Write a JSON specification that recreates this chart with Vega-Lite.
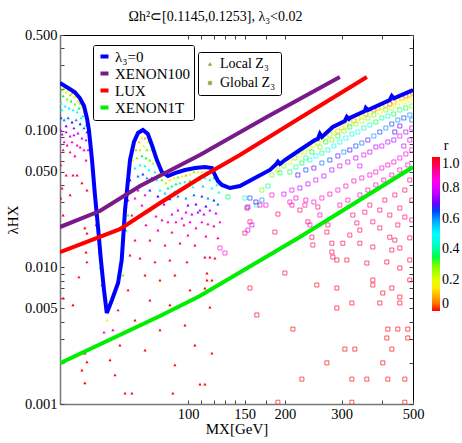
{
"$schema": "https://vega.github.io/schema/vega-lite/v6.json",
"width": 353, "height": 369,
"autosize": {"type": "none"},
"padding": {"left": 60, "top": 35, "right": 49, "bottom": 39},
"background": "white",
"title": {"text": "Ωh²⊂[0.1145,0.1253], λ₃<0.02", "font": "Liberation Serif, Times New Roman, serif", "fontSize": 14, "fontWeight": "normal", "color": "#000", "anchor": "middle", "dx": -21, "offset": 3},
"config": {
  "font": "Liberation Serif, Times New Roman, serif",
  "view": {"stroke": "#000", "strokeWidth": 1},
  "axis": {"grid": false, "labelFont": "Liberation Serif, Times New Roman, serif", "labelFontSize": 14.5, "labelColor": "#000", "titleFont": "Liberation Serif, Times New Roman, serif", "titleFontSize": 15, "titleFontWeight": "normal", "titleColor": "#000", "domainColor": "#777", "domainWidth": 1.5, "tickColor": "#444", "tickSize": -4, "labelPadding": 7, "labelOverlap": false, "labelFlush": false},
  "legend": {"labelFont": "Liberation Serif, Times New Roman, serif", "titleFont": "Liberation Serif, Times New Roman, serif"}
},
"datasets": {
"pts": [
{"m":40.6,"l":0.198,"r":0.3,"t":"L"},{"m":41.2,"l":0.205,"r":0.25,"t":"L"},{"m":41.8,"l":0.191,"r":0.2,"t":"L"},{"m":42.4,"l":0.198,"r":0.15,"t":"L"},{"m":43.0,"l":0.182,"r":0.3,"t":"L"},{"m":43.6,"l":0.188,"r":0.1,"t":"L"},{"m":44.2,"l":0.176,"r":0.2,"t":"L"},{"m":44.9,"l":0.179,"r":0.25,"t":"L"},{"m":45.5,"l":0.1645,"r":0.15,"t":"L"},{"m":46.2,"l":0.159,"r":0.3,"t":"L"},{"m":46.8,"l":0.1487,"r":0.2,"t":"L"},{"m":47.5,"l":0.1367,"r":0.25,"t":"L"},{"m":48.2,"l":0.1236,"r":0.3,"t":"L"},{"m":40.9,"l":0.179,"r":0.35,"t":"L"},{"m":42.1,"l":0.17,"r":0.3,"t":"L"},{"m":43.3,"l":0.1645,"r":0.35,"t":"L"},{"m":44.5,"l":0.1564,"r":0.3,"t":"L"},{"m":45.8,"l":0.1462,"r":0.35,"t":"L"},{"m":47.2,"l":0.1278,"r":0.4,"t":"L"},
{"m":40.3,"l":0.159,"r":0.45,"t":"L"},{"m":41.5,"l":0.1512,"r":0.5,"t":"L"},{"m":42.7,"l":0.1462,"r":0.45,"t":"L"},{"m":43.9,"l":0.1414,"r":0.5,"t":"L"},{"m":45.2,"l":0.1367,"r":0.45,"t":"L"},{"m":46.5,"l":0.1236,"r":0.5,"t":"L"},{"m":48.2,"l":0.1098,"r":0.45,"t":"L"},{"m":40.6,"l":0.1414,"r":0.5,"t":"L"},
{"m":40.3,"l":0.1236,"r":0.65,"t":"L"},{"m":41.2,"l":0.1195,"r":0.6,"t":"L"},{"m":42.4,"l":0.1236,"r":0.62,"t":"L"},{"m":43.6,"l":0.1155,"r":0.68,"t":"L"},{"m":44.9,"l":0.1195,"r":0.6,"t":"L"},{"m":46.2,"l":0.1117,"r":0.65,"t":"L"},{"m":47.5,"l":0.1044,"r":0.62,"t":"L"},{"m":48.5,"l":0.0976,"r":0.7,"t":"L"},{"m":41.8,"l":0.108,"r":0.7,"t":"L"},{"m":44.2,"l":0.1044,"r":0.72,"t":"L"},
{"m":40.6,"l":0.0943,"r":0.78,"t":"L"},{"m":41.8,"l":0.0976,"r":0.75,"t":"L"},{"m":43.0,"l":0.0912,"r":0.8,"t":"L"},{"m":44.2,"l":0.0928,"r":0.76,"t":"L"},{"m":45.5,"l":0.0959,"r":0.78,"t":"L"},{"m":46.8,"l":0.0882,"r":0.8,"t":"L"},{"m":48.2,"l":0.0853,"r":0.78,"t":"L"},{"m":40.2,"l":0.1009,"r":0.75,"t":"L"},
{"m":41.2,"l":0.0825,"r":0.85,"t":"L"},{"m":42.1,"l":0.0784,"r":0.88,"t":"L"},{"m":43.6,"l":0.0825,"r":0.86,"t":"L"},{"m":45.2,"l":0.0784,"r":0.85,"t":"L"},{"m":46.2,"l":0.0758,"r":0.9,"t":"L"},{"m":47.5,"l":0.0721,"r":0.88,"t":"L"},{"m":48.9,"l":0.0721,"r":0.85,"t":"L"},{"m":43.0,"l":0.0697,"r":0.9,"t":"L"},{"m":44.5,"l":0.0652,"r":0.9,"t":"L"},{"m":40.9,"l":0.0721,"r":0.88,"t":"L"},{"m":48.2,"l":0.0609,"r":0.9,"t":"L"},
{"m":40.2,"l":0.056,"r":0.95,"t":"L"},{"m":41.8,"l":0.0473,"r":0.95,"t":"L"},{"m":43.9,"l":0.0473,"r":0.96,"t":"L"},{"m":45.2,"l":0.0473,"r":0.95,"t":"L"},{"m":46.8,"l":0.0414,"r":0.96,"t":"L"},{"m":48.5,"l":0.0367,"r":0.97,"t":"L"},{"m":40.6,"l":0.038,"r":0.95,"t":"L"},{"m":43.0,"l":0.0338,"r":0.97,"t":"L"},
{"m":40.2,"l":0.0321,"r":1.0,"t":"L"},{"m":40.9,"l":0.0241,"r":0.99,"t":"L"},{"m":47.8,"l":0.0194,"r":1.0,"t":"L"},{"m":48.5,"l":0.0178,"r":0.99,"t":"L"},{"m":48.2,"l":0.01293,"r":1.0,"t":"L"},{"m":48.5,"l":0.01093,"r":0.99,"t":"L"},{"m":45.8,"l":0.00849,"r":1.0,"t":"L"},{"m":40.9,"l":0.00596,"r":1.0,"t":"L"},{"m":43.9,"l":0.0053,"r":1.0,"t":"L"},{"m":47.8,"l":0.00236,"r":1.0,"t":"L"},{"m":48.5,"l":0.00203,"r":1.0,"t":"L"},{"m":46.8,"l":0.00177,"r":1.0,"t":"L"},{"m":47.8,"l":0.00143,"r":1.0,"t":"L"},
{"m":52.5,"l":0.0166,"r":0.35,"t":"L"},{"m":52.9,"l":0.0127,"r":0.3,"t":"L"},{"m":53.3,"l":0.00988,"r":0.35,"t":"L"},{"m":56.0,"l":0.00411,"r":0.15,"t":"L"},{"m":54.8,"l":0.00336,"r":0.85,"t":"L"},{"m":51.4,"l":0.0241,"r":0.5,"t":"L"},{"m":51.8,"l":0.0204,"r":0.9,"t":"L"},{"m":54.0,"l":0.00742,"r":0.95,"t":"L"},{"m":58.4,"l":0.00348,"r":0.9,"t":"L"},{"m":60.6,"l":0.00487,"r":0.95,"t":"L"},{"m":61.4,"l":0.0027,"r":1.0,"t":"L"},{"m":57.2,"l":0.0021,"r":1.0,"t":"L"},{"m":59.3,"l":0.00163,"r":0.99,"t":"L"},{"m":63.7,"l":0.0012,"r":1.0,"t":"L"},{"m":66.9,"l":0.0012,"r":1.0,"t":"L"},{"m":62.8,"l":0.00878,"r":0.3,"t":"L"},{"m":64.1,"l":0.0187,"r":0.35,"t":"L"},{"m":65.1,"l":0.0241,"r":0.3,"t":"L"},
{"m":67.4,"l":0.0609,"r":0.15,"t":"L"},{"m":68.9,"l":0.0721,"r":0.1,"t":"L"},{"m":70.4,"l":0.0825,"r":0.1,"t":"L"},{"m":71.9,"l":0.0882,"r":0.15,"t":"L"},{"m":73.5,"l":0.0882,"r":0.1,"t":"L"},{"m":75.1,"l":0.0825,"r":0.15,"t":"L"},{"m":76.7,"l":0.0721,"r":0.2,"t":"L"},{"m":70.9,"l":0.0721,"r":0.25,"t":"L"},{"m":72.9,"l":0.0771,"r":0.2,"t":"L"},{"m":74.5,"l":0.0721,"r":0.3,"t":"L"},{"m":69.4,"l":0.063,"r":0.3,"t":"L"},{"m":71.9,"l":0.0652,"r":0.35,"t":"L"},{"m":74.0,"l":0.063,"r":0.35,"t":"L"},{"m":76.1,"l":0.0609,"r":0.3,"t":"L"},{"m":77.8,"l":0.0579,"r":0.25,"t":"L"},{"m":68.4,"l":0.0532,"r":0.45,"t":"L"},{"m":70.9,"l":0.056,"r":0.5,"t":"L"},{"m":73.5,"l":0.0551,"r":0.45,"t":"L"},{"m":75.6,"l":0.0515,"r":0.5,"t":"L"},{"m":78.9,"l":0.0498,"r":0.4,"t":"L"},{"m":69.9,"l":0.0465,"r":0.62,"t":"L"},{"m":72.4,"l":0.0481,"r":0.65,"t":"L"},{"m":74.5,"l":0.045,"r":0.6,"t":"L"},{"m":77.2,"l":0.045,"r":0.7,"t":"L"},{"m":80.0,"l":0.0435,"r":0.5,"t":"L"},{"m":66.0,"l":0.0435,"r":0.7,"t":"L"},
{"m":83.0,"l":0.0435,"r":0.3,"t":"L"},{"m":85.4,"l":0.0414,"r":0.25,"t":"L"},{"m":87.8,"l":0.0435,"r":0.15,"t":"L"},{"m":90.4,"l":0.045,"r":0.2,"t":"L"},{"m":93.0,"l":0.0457,"r":0.3,"t":"L"},{"m":95.7,"l":0.0465,"r":0.2,"t":"L"},{"m":98.5,"l":0.0473,"r":0.1,"t":"L"},{"m":101.4,"l":0.0481,"r":0.15,"t":"L"},{"m":104.3,"l":0.0498,"r":0.3,"t":"L"},{"m":107.3,"l":0.0498,"r":0.2,"t":"L"},{"m":110.4,"l":0.0498,"r":0.15,"t":"L"},{"m":113.6,"l":0.0498,"r":0.25,"t":"L"},{"m":116.9,"l":0.049,"r":0.3,"t":"L"},{"m":120.3,"l":0.045,"r":0.35,"t":"L"},
{"m":86.6,"l":0.038,"r":0.35,"t":"L"},{"m":89.1,"l":0.0393,"r":0.4,"t":"L"},{"m":91.7,"l":0.0407,"r":0.35,"t":"L"},{"m":94.4,"l":0.0414,"r":0.45,"t":"L"},{"m":97.8,"l":0.0421,"r":0.4,"t":"L"},{"m":101.4,"l":0.0428,"r":0.35,"t":"L"},{"m":105.0,"l":0.0435,"r":0.45,"t":"L"},{"m":108.9,"l":0.0442,"r":0.4,"t":"L"},{"m":112.8,"l":0.045,"r":0.5,"t":"L"},{"m":116.9,"l":0.0435,"r":0.45,"t":"L"},{"m":122.9,"l":0.04,"r":0.45,"t":"L"},
{"m":81.8,"l":0.0367,"r":0.5,"t":"L"},{"m":84.8,"l":0.0349,"r":0.55,"t":"L"},{"m":91.0,"l":0.0361,"r":0.5,"t":"L"},{"m":97.1,"l":0.038,"r":0.55,"t":"L"},{"m":103.5,"l":0.0387,"r":0.5,"t":"L"},{"m":111.2,"l":0.0393,"r":0.55,"t":"L"},{"m":118.6,"l":0.038,"r":0.5,"t":"L"},{"m":124.7,"l":0.0355,"r":0.5,"t":"L"},
{"m":76.1,"l":0.0367,"r":0.65,"t":"L"},{"m":80.6,"l":0.0332,"r":0.68,"t":"L"},{"m":87.8,"l":0.0316,"r":0.65,"t":"L"},{"m":93.0,"l":0.0332,"r":0.62,"t":"L"},{"m":98.5,"l":0.0321,"r":0.6,"t":"L"},{"m":104.3,"l":0.0338,"r":0.62,"t":"L"},{"m":110.4,"l":0.0332,"r":0.65,"t":"L"},{"m":115.3,"l":0.0321,"r":0.6,"t":"L"},{"m":120.3,"l":0.031,"r":0.65,"t":"L"},{"m":99.9,"l":0.0285,"r":0.7,"t":"L"},{"m":105.8,"l":0.029,"r":0.7,"t":"L"},{"m":113.6,"l":0.028,"r":0.68,"t":"L"},{"m":123.8,"l":0.029,"r":0.62,"t":"L"},{"m":84.2,"l":0.029,"r":0.72,"t":"L"},{"m":108.9,"l":0.0262,"r":0.75,"t":"L"},
{"m":93.0,"l":0.0262,"r":0.78,"t":"L"},{"m":98.5,"l":0.0253,"r":0.8,"t":"L"},{"m":102.8,"l":0.0245,"r":0.78,"t":"L"},{"m":107.3,"l":0.0253,"r":0.76,"t":"L"},{"m":112.0,"l":0.0245,"r":0.78,"t":"L"},{"m":116.9,"l":0.0262,"r":0.8,"t":"L"},{"m":122.1,"l":0.0249,"r":0.77,"t":"L"},{"m":89.1,"l":0.0245,"r":0.8,"t":"L"},{"m":95.7,"l":0.0229,"r":0.82,"t":"L"},{"m":73.5,"l":0.0338,"r":0.8,"t":"L"},{"m":69.9,"l":0.0367,"r":0.78,"t":"L"},
{"m":68.4,"l":0.0321,"r":0.85,"t":"L"},{"m":71.9,"l":0.0285,"r":0.88,"t":"L"},{"m":76.1,"l":0.0262,"r":0.85,"t":"L"},{"m":79.5,"l":0.0237,"r":0.87,"t":"L"},{"m":83.0,"l":0.0222,"r":0.88,"t":"L"},{"m":86.6,"l":0.0215,"r":0.86,"t":"L"},{"m":91.7,"l":0.0215,"r":0.88,"t":"L"},{"m":97.1,"l":0.0204,"r":0.9,"t":"L"},{"m":101.4,"l":0.0215,"r":0.87,"t":"L"},{"m":105.8,"l":0.0194,"r":0.88,"t":"L"},{"m":110.4,"l":0.0215,"r":0.86,"t":"L"},{"m":115.3,"l":0.0208,"r":0.88,"t":"L"},{"m":120.3,"l":0.0201,"r":0.9,"t":"L"},{"m":125.6,"l":0.0215,"r":0.87,"t":"L"},{"m":66.9,"l":0.0241,"r":0.9,"t":"L"},{"m":74.0,"l":0.0204,"r":0.9,"t":"L"},{"m":80.6,"l":0.0187,"r":0.9,"t":"L"},{"m":89.1,"l":0.0181,"r":0.9,"t":"L"},{"m":99.9,"l":0.0172,"r":0.92,"t":"L"},{"m":113.6,"l":0.0169,"r":0.9,"t":"L"},{"m":123.8,"l":0.0164,"r":0.9,"t":"L"},{"m":65.1,"l":0.031,"r":0.88,"t":"L"},
{"m":68.4,"l":0.0158,"r":0.95,"t":"L"},{"m":76.1,"l":0.0158,"r":0.96,"t":"L"},{"m":84.8,"l":0.01455,"r":0.95,"t":"L"},{"m":94.4,"l":0.015,"r":0.96,"t":"L"},{"m":105.0,"l":0.01455,"r":0.97,"t":"L"},{"m":112.8,"l":0.01188,"r":0.98,"t":"L"},{"m":116.9,"l":0.01188,"r":0.97,"t":"L"},{"m":121.2,"l":0.01168,"r":0.98,"t":"L"},{"m":70.9,"l":0.01168,"r":0.97,"t":"L"},{"m":78.9,"l":0.01093,"r":0.98,"t":"L"},{"m":87.8,"l":0.0113,"r":0.98,"t":"L"},{"m":99.2,"l":0.01093,"r":0.99,"t":"L"},{"m":66.0,"l":0.01229,"r":0.96,"t":"L"},{"m":73.5,"l":0.00878,"r":1.0,"t":"L"},{"m":81.8,"l":0.00807,"r":0.99,"t":"L"},{"m":91.0,"l":0.00878,"r":1.0,"t":"L"},{"m":101.4,"l":0.00682,"r":1.0,"t":"L"},{"m":114.5,"l":0.00908,"r":1.0,"t":"L"},{"m":114.5,"l":0.00807,"r":1.0,"t":"L"},{"m":118.6,"l":0.00807,"r":1.0,"t":"L"},{"m":112.8,"l":0.00705,"r":1.0,"t":"L"},{"m":65.1,"l":0.00682,"r":1.0,"t":"L"},{"m":76.1,"l":0.00576,"r":1.0,"t":"L"},{"m":87.8,"l":0.0053,"r":1.0,"t":"L"},{"m":116.9,"l":0.00512,"r":1.0,"t":"L"},{"m":68.4,"l":0.00411,"r":1.0,"t":"L"},{"m":81.8,"l":0.00348,"r":1.0,"t":"L"},{"m":97.8,"l":0.00378,"r":1.0,"t":"L"},{"m":105.0,"l":0.0027,"r":1.0,"t":"L"},{"m":118.6,"l":0.00236,"r":1.0,"t":"L"},{"m":73.5,"l":0.00248,"r":1.0,"t":"L"},{"m":91.0,"l":0.00193,"r":1.0,"t":"L"},{"m":108.9,"l":0.0014,"r":1.0,"t":"L"},{"m":112.8,"l":0.0014,"r":1.0,"t":"L"},{"m":89.7,"l":0.0012,"r":1.0,"t":"L"},
{"m":498,"l":0.1882,"r":0.05,"t":"G"},{"m":488.7,"l":0.182,"r":0.1,"t":"G"},{"m":475.0,"l":0.179,"r":0.05,"t":"G"},{"m":461.6,"l":0.173,"r":0.1,"t":"G"},{"m":448.6,"l":0.1673,"r":0.15,"t":"G"},{"m":435.9,"l":0.1618,"r":0.1,"t":"G"},{"m":423.6,"l":0.1564,"r":0.05,"t":"G"},{"m":411.7,"l":0.1538,"r":0.1,"t":"G"},{"m":400.0,"l":0.1487,"r":0.15,"t":"G"},{"m":388.8,"l":0.1462,"r":0.1,"t":"G"},{"m":377.8,"l":0.1414,"r":0.05,"t":"G"},{"m":367.2,"l":0.1367,"r":0.15,"t":"G"},{"m":356.8,"l":0.1322,"r":0.1,"t":"G"},{"m":346.7,"l":0.1278,"r":0.2,"t":"G"},{"m":337.0,"l":0.1236,"r":0.15,"t":"G"},{"m":327.5,"l":0.1175,"r":0.1,"t":"G"},{"m":318.2,"l":0.1136,"r":0.2,"t":"G"},{"m":309.3,"l":0.108,"r":0.15,"t":"G"},{"m":300.5,"l":0.1044,"r":0.2,"t":"G"},{"m":292.1,"l":0.0992,"r":0.1,"t":"G"},{"m":283.8,"l":0.0959,"r":0.2,"t":"G"},{"m":275.8,"l":0.0928,"r":0.25,"t":"G"},{"m":268.0,"l":0.0897,"r":0.15,"t":"G"},{"m":260.5,"l":0.0853,"r":0.2,"t":"G"},{"m":253.1,"l":0.0811,"r":0.25,"t":"G"},{"m":246.0,"l":0.0784,"r":0.15,"t":"G"},{"m":239.1,"l":0.0745,"r":0.2,"t":"G"},{"m":230.7,"l":0.0697,"r":0.25,"t":"G"},{"m":222.6,"l":0.0663,"r":0.2,"t":"G"},{"m":214.7,"l":0.063,"r":0.3,"t":"G"},{"m":207.2,"l":0.0589,"r":0.2,"t":"G"},{"m":198.5,"l":0.0551,"r":0.3,"t":"G"},{"m":190.2,"l":0.0515,"r":0.25,"t":"G"},{"m":182.2,"l":0.0473,"r":0.3,"t":"G"},
{"m":488.7,"l":0.1673,"r":0.15,"t":"G"},{"m":468.2,"l":0.1618,"r":0.2,"t":"G"},{"m":448.6,"l":0.1512,"r":0.2,"t":"G"},{"m":429.7,"l":0.1462,"r":0.25,"t":"G"},{"m":411.7,"l":0.1414,"r":0.3,"t":"G"},{"m":394.4,"l":0.1367,"r":0.2,"t":"G"},{"m":377.8,"l":0.13,"r":0.3,"t":"G"},{"m":362.0,"l":0.1236,"r":0.3,"t":"G"},{"m":346.7,"l":0.1175,"r":0.25,"t":"G"},{"m":332.2,"l":0.1117,"r":0.3,"t":"G"},{"m":318.2,"l":0.1062,"r":0.35,"t":"G"},{"m":304.9,"l":0.0992,"r":0.3,"t":"G"},{"m":292.1,"l":0.0912,"r":0.35,"t":"G"},{"m":279.8,"l":0.0853,"r":0.3,"t":"G"},{"m":268.0,"l":0.0825,"r":0.35,"t":"G"},{"m":256.8,"l":0.0758,"r":0.3,"t":"G"},{"m":242.5,"l":0.0697,"r":0.35,"t":"G"},{"m":232.3,"l":0.063,"r":0.4,"t":"G"},
{"m":495.8,"l":0.1512,"r":0.3,"t":"G"},{"m":475.0,"l":0.1462,"r":0.35,"t":"G"},{"m":455.0,"l":0.1414,"r":0.4,"t":"G"},{"m":435.9,"l":0.1322,"r":0.35,"t":"G"},{"m":417.6,"l":0.1278,"r":0.45,"t":"G"},{"m":400.0,"l":0.1236,"r":0.4,"t":"G"},{"m":383.3,"l":0.1155,"r":0.35,"t":"G"},{"m":367.2,"l":0.1098,"r":0.45,"t":"G"},{"m":351.7,"l":0.1044,"r":0.4,"t":"G"},{"m":337.0,"l":0.0976,"r":0.5,"t":"G"},{"m":322.8,"l":0.0943,"r":0.45,"t":"G"},{"m":309.3,"l":0.0882,"r":0.5,"t":"G"},{"m":296.3,"l":0.0825,"r":0.45,"t":"G"},{"m":283.8,"l":0.0771,"r":0.5,"t":"G"},{"m":271.9,"l":0.0721,"r":0.45,"t":"G"},{"m":260.5,"l":0.0685,"r":0.4,"t":"G"},{"m":249.5,"l":0.0652,"r":0.5,"t":"G"},{"m":239.1,"l":0.0609,"r":0.45,"t":"G"},{"m":225.8,"l":0.0579,"r":0.35,"t":"G"},{"m":216.3,"l":0.0541,"r":0.4,"t":"G"},{"m":207.2,"l":0.0498,"r":0.35,"t":"G"},{"m":192.9,"l":0.049,"r":0.35,"t":"G"},{"m":133.0,"l":0.0327,"r":0.35,"t":"G"},{"m":150.2,"l":0.0321,"r":0.45,"t":"G"},{"m":163.6,"l":0.0285,"r":0.5,"t":"G"},{"m":169.6,"l":0.0367,"r":0.3,"t":"G"},{"m":177.0,"l":0.0393,"r":0.4,"t":"G"},
{"m":488.7,"l":0.13,"r":0.6,"t":"G"},{"m":468.2,"l":0.1236,"r":0.65,"t":"G"},{"m":448.6,"l":0.1195,"r":0.6,"t":"G"},{"m":429.7,"l":0.1117,"r":0.65,"t":"G"},{"m":411.7,"l":0.1044,"r":0.6,"t":"G"},{"m":394.4,"l":0.0976,"r":0.65,"t":"G"},{"m":377.8,"l":0.0912,"r":0.6,"t":"G"},{"m":362.0,"l":0.0853,"r":0.7,"t":"G"},{"m":346.7,"l":0.0811,"r":0.62,"t":"G"},{"m":332.2,"l":0.0771,"r":0.65,"t":"G"},{"m":318.2,"l":0.0721,"r":0.68,"t":"G"},{"m":304.9,"l":0.0697,"r":0.6,"t":"G"},{"m":292.1,"l":0.0652,"r":0.7,"t":"G"},{"m":275.8,"l":0.0609,"r":0.65,"t":"G"},{"m":260.5,"l":0.0579,"r":0.62,"t":"G"},{"m":246.0,"l":0.0532,"r":0.7,"t":"G"},{"m":232.3,"l":0.0515,"r":0.65,"t":"G"},{"m":219.4,"l":0.0473,"r":0.68,"t":"G"},{"m":155.7,"l":0.0321,"r":0.65,"t":"G"},{"m":162.5,"l":0.03,"r":0.68,"t":"G"},{"m":169.6,"l":0.031,"r":0.6,"t":"G"},{"m":153.4,"l":0.0276,"r":0.7,"t":"G"},{"m":495.8,"l":0.1195,"r":0.62,"t":"G"},{"m":455.0,"l":0.108,"r":0.7,"t":"G"},{"m":439.0,"l":0.0976,"r":0.68,"t":"G"},
{"m":495.8,"l":0.1044,"r":0.78,"t":"G"},{"m":475.0,"l":0.0976,"r":0.76,"t":"G"},{"m":455.0,"l":0.0912,"r":0.8,"t":"G"},{"m":435.9,"l":0.0853,"r":0.75,"t":"G"},{"m":417.6,"l":0.0825,"r":0.78,"t":"G"},{"m":400.0,"l":0.0771,"r":0.8,"t":"G"},{"m":383.3,"l":0.0758,"r":0.76,"t":"G"},{"m":367.2,"l":0.0697,"r":0.78,"t":"G"},{"m":351.7,"l":0.0663,"r":0.8,"t":"G"},{"m":332.2,"l":0.063,"r":0.77,"t":"G"},{"m":313.7,"l":0.0589,"r":0.78,"t":"G"},{"m":296.3,"l":0.0551,"r":0.8,"t":"G"},{"m":279.8,"l":0.0515,"r":0.76,"t":"G"},{"m":264.2,"l":0.0465,"r":0.78,"t":"G"},{"m":249.5,"l":0.0435,"r":0.8,"t":"G"},{"m":235.7,"l":0.0407,"r":0.78,"t":"G"},{"m":222.6,"l":0.038,"r":0.76,"t":"G"},{"m":210.2,"l":0.0367,"r":0.8,"t":"G"},{"m":198.5,"l":0.0343,"r":0.78,"t":"G"},{"m":157.9,"l":0.0204,"r":0.78,"t":"G"},{"m":153.4,"l":0.0187,"r":0.8,"t":"G"},{"m":488.7,"l":0.0853,"r":0.8,"t":"G"},{"m":468.2,"l":0.0771,"r":0.77,"t":"G"},{"m":341.8,"l":0.0551,"r":0.8,"t":"G"},
{"m":495.8,"l":0.0721,"r":0.85,"t":"G"},{"m":475.0,"l":0.0674,"r":0.86,"t":"G"},{"m":455.0,"l":0.063,"r":0.85,"t":"G"},{"m":435.9,"l":0.0589,"r":0.88,"t":"G"},{"m":417.6,"l":0.056,"r":0.86,"t":"G"},{"m":400.0,"l":0.0532,"r":0.85,"t":"G"},{"m":383.3,"l":0.0498,"r":0.88,"t":"G"},{"m":367.2,"l":0.0473,"r":0.86,"t":"G"},{"m":346.7,"l":0.045,"r":0.85,"t":"G"},{"m":327.5,"l":0.0428,"r":0.88,"t":"G"},{"m":309.3,"l":0.0393,"r":0.86,"t":"G"},{"m":292.1,"l":0.0367,"r":0.85,"t":"G"},{"m":275.8,"l":0.0343,"r":0.88,"t":"G"},{"m":260.5,"l":0.0321,"r":0.86,"t":"G"},{"m":246.0,"l":0.03,"r":0.85,"t":"G"},{"m":232.3,"l":0.031,"r":0.86,"t":"G"},{"m":216.3,"l":0.0321,"r":0.88,"t":"G"},{"m":207.2,"l":0.03,"r":0.85,"t":"G"},{"m":182.2,"l":0.0338,"r":0.87,"t":"G"},{"m":174.5,"l":0.0285,"r":0.85,"t":"G"},{"m":481.8,"l":0.056,"r":0.88,"t":"G"},{"m":455.0,"l":0.0515,"r":0.86,"t":"G"},{"m":429.7,"l":0.0473,"r":0.87,"t":"G"},{"m":405.8,"l":0.0435,"r":0.88,"t":"G"},{"m":383.3,"l":0.04,"r":0.86,"t":"G"},{"m":362.0,"l":0.0367,"r":0.88,"t":"G"},{"m":341.8,"l":0.0338,"r":0.87,"t":"G"},{"m":313.7,"l":0.031,"r":0.88,"t":"G"},{"m":256.8,"l":0.0241,"r":0.88,"t":"G"},{"m":239.1,"l":0.0204,"r":0.87,"t":"G"},{"m":125.6,"l":0.01383,"r":0.86,"t":"G"},{"m":130.2,"l":0.01271,"r":0.85,"t":"G"},
{"m":152.4,"l":0.0271,"r":0.92,"t":"G"},{"m":167.2,"l":0.0285,"r":0.9,"t":"G"},{"m":190.2,"l":0.0245,"r":0.92,"t":"G"},{"m":155.7,"l":0.0215,"r":0.93,"t":"G"},{"m":150.2,"l":0.0178,"r":0.94,"t":"G"},{"m":186.1,"l":0.0181,"r":0.95,"t":"G"},{"m":210.2,"l":0.0285,"r":0.9,"t":"G"},{"m":222.6,"l":0.0262,"r":0.92,"t":"G"},{"m":230.7,"l":0.0285,"r":0.9,"t":"G"},{"m":235.7,"l":0.0215,"r":0.93,"t":"G"},{"m":253.1,"l":0.0276,"r":0.91,"t":"G"},{"m":271.9,"l":0.0204,"r":0.93,"t":"G"},{"m":270.0,"l":0.0181,"r":0.94,"t":"G"},{"m":242.5,"l":0.0166,"r":0.95,"t":"G"},{"m":244.2,"l":0.01455,"r":0.96,"t":"G"},{"m":279.8,"l":0.015,"r":0.95,"t":"G"},{"m":296.3,"l":0.0285,"r":0.9,"t":"G"},{"m":325.1,"l":0.0241,"r":0.92,"t":"G"},{"m":334.6,"l":0.0211,"r":0.93,"t":"G"},{"m":354.3,"l":0.0253,"r":0.91,"t":"G"},{"m":375.1,"l":0.0215,"r":0.93,"t":"G"},{"m":394.4,"l":0.0194,"r":0.94,"t":"G"},{"m":423.6,"l":0.0166,"r":0.95,"t":"G"},{"m":448.6,"l":0.0204,"r":0.93,"t":"G"},{"m":471.6,"l":0.0233,"r":0.92,"t":"G"},{"m":488.7,"l":0.0164,"r":0.95,"t":"G"},{"m":455.0,"l":0.01383,"r":0.96,"t":"G"},{"m":429.7,"l":0.01337,"r":0.96,"t":"G"},{"m":375.1,"l":0.01407,"r":0.95,"t":"G"},{"m":341.8,"l":0.015,"r":0.95,"t":"G"},{"m":302.7,"l":0.015,"r":0.95,"t":"G"},{"m":290.0,"l":0.0113,"r":0.97,"t":"G"},{"m":311.5,"l":0.0113,"r":0.97,"t":"G"},{"m":359.4,"l":0.01074,"r":0.97,"t":"G"},{"m":414.6,"l":0.01093,"r":0.97,"t":"G"},{"m":455.0,"l":0.00988,"r":0.98,"t":"G"},{"m":488.7,"l":0.0113,"r":0.97,"t":"G"},{"m":199.9,"l":0.00908,"r":0.97,"t":"G"},{"m":279.8,"l":0.01293,"r":0.96,"t":"G"},{"m":281.8,"l":0.01188,"r":0.97,"t":"G"},{"m":251.3,"l":0.00742,"r":0.98,"t":"G"},{"m":290.0,"l":0.00705,"r":0.98,"t":"G"},{"m":375.1,"l":0.00807,"r":0.98,"t":"G"},{"m":375.1,"l":0.00742,"r":0.98,"t":"G"},{"m":429.7,"l":0.00705,"r":0.99,"t":"G"},{"m":488.7,"l":0.00807,"r":0.98,"t":"G"},{"m":155.7,"l":0.00705,"r":0.98,"t":"G"},{"m":402.9,"l":0.00648,"r":0.99,"t":"G"},{"m":455.0,"l":0.00606,"r":0.99,"t":"G"},{"m":322.8,"l":0.00548,"r":0.99,"t":"G"},{"m":394.4,"l":0.00548,"r":0.99,"t":"G"},{"m":455.0,"l":0.00548,"r":0.99,"t":"G"},{"m":290.0,"l":0.00504,"r":0.99,"t":"G"},{"m":163.6,"l":0.00448,"r":0.99,"t":"G"},{"m":211.7,"l":0.00353,"r":1.0,"t":"G"},{"m":417.6,"l":0.00353,"r":1.0,"t":"G"},{"m":448.6,"l":0.00353,"r":1.0,"t":"G"},{"m":481.8,"l":0.00353,"r":1.0,"t":"G"},{"m":414.6,"l":0.00304,"r":1.0,"t":"G"},{"m":481.8,"l":0.00304,"r":1.0,"t":"G"},{"m":307.1,"l":0.00252,"r":1.0,"t":"G"},{"m":329.8,"l":0.00252,"r":1.0,"t":"G"},{"m":429.7,"l":0.00252,"r":1.0,"t":"G"},{"m":270.0,"l":0.002,"r":1.0,"t":"G"},{"m":402.9,"l":0.002,"r":1.0,"t":"G"},{"m":225.8,"l":0.00152,"r":1.0,"t":"G"},{"m":322.8,"l":0.00152,"r":1.0,"t":"G"},{"m":359.4,"l":0.00152,"r":1.0,"t":"G"},{"m":417.6,"l":0.00152,"r":1.0,"t":"G"},{"m":471.6,"l":0.00152,"r":1.0,"t":"G"},{"m":190.2,"l":0.00103,"r":1.0,"t":"G"},{"m":322.8,"l":0.00103,"r":1.0,"t":"G"},{"m":471.6,"l":0.00103,"r":1.0,"t":"G"},{"m":488.7,"l":0.0435,"r":0.92,"t":"G"},{"m":471.6,"l":0.0367,"r":0.93,"t":"G"},{"m":439.0,"l":0.0338,"r":0.92,"t":"G"},{"m":408.7,"l":0.031,"r":0.93,"t":"G"},{"m":495.8,"l":0.031,"r":0.94,"t":"G"},{"m":455.0,"l":0.0271,"r":0.93,"t":"G"},{"m":423.6,"l":0.0241,"r":0.94,"t":"G"},{"m":394.4,"l":0.0262,"r":0.92,"t":"G"},{"m":367.2,"l":0.0285,"r":0.93,"t":"G"},{"m":341.8,"l":0.0187,"r":0.95,"t":"G"},{"m":318.2,"l":0.0172,"r":0.94,"t":"G"},{"m":495.8,"l":0.0222,"r":0.95,"t":"G"},{"m":439.0,"l":0.0158,"r":0.96,"t":"G"}
],
"lines": [
{"c":"λ₃=0","m":40,"l":0.2228},{"c":"λ₃=0","m":42.9,"l":0.2014},{"c":"λ₃=0","m":44.4,"l":0.1914},{"c":"λ₃=0","m":46.1,"l":0.173},{"c":"λ₃=0","m":47.5,"l":0.1512},{"c":"λ₃=0","m":48.5,"l":0.1235},{"c":"λ₃=0","m":49.2,"l":0.1009},{"c":"λ₃=0","m":50.3,"l":0.0609},{"c":"λ₃=0","m":51.3,"l":0.0349},{"c":"λ₃=0","m":52.5,"l":0.0197},{"c":"λ₃=0","m":53.6,"l":0.0113},{"c":"λ₃=0","m":54.8,"l":0.00682},{"c":"λ₃=0","m":55.9,"l":0.00462},{"c":"λ₃=0","m":58.0,"l":0.00576},{"c":"λ₃=0","m":60.6,"l":0.00767},{"c":"λ₃=0","m":62.2,"l":0.0113},{"c":"λ₃=0","m":63.7,"l":0.0262},{"c":"λ₃=0","m":66.0,"l":0.0609},{"c":"λ₃=0","m":67.9,"l":0.0825},{"c":"λ₃=0","m":69.9,"l":0.096},{"c":"λ₃=0","m":72.4,"l":0.1009},{"c":"λ₃=0","m":75.0,"l":0.0944},{"c":"λ₃=0","m":77.2,"l":0.0784},{"c":"λ₃=0","m":80.0,"l":0.0609},{"c":"λ₃=0","m":82.9,"l":0.0498},{"c":"λ₃=0","m":86.6,"l":0.0465},{"c":"λ₃=0","m":91.0,"l":0.0489},{"c":"λ₃=0","m":97.8,"l":0.0515},{"c":"λ₃=0","m":105.1,"l":0.0532},{"c":"λ₃=0","m":112.8,"l":0.0541},{"c":"λ₃=0","m":118.6,"l":0.0532},{"c":"λ₃=0","m":121.2,"l":0.0473},{"c":"λ₃=0","m":123.8,"l":0.0428},{"c":"λ₃=0","m":127.4,"l":0.04},{"c":"λ₃=0","m":134.9,"l":0.038},{"c":"λ₃=0","m":144.9,"l":0.0393},{"c":"λ₃=0","m":161.3,"l":0.045},{"c":"λ₃=0","m":179.6,"l":0.0515},{"c":"λ₃=0","m":187.5,"l":0.0565},{"c":"λ₃=0","m":190.2,"l":0.0592},{"c":"λ₃=0","m":192.9,"l":0.0569},{"c":"λ₃=0","m":199.9,"l":0.0609},{"c":"λ₃=0","m":222.6,"l":0.0721},{"c":"λ₃=0","m":247.7,"l":0.0853},{"c":"λ₃=0","m":253.1,"l":0.0868},{"c":"λ₃=0","m":256.8,"l":0.0946},{"c":"λ₃=0","m":260.5,"l":0.0897},{"c":"λ₃=0","m":281.8,"l":0.1062},{"c":"λ₃=0","m":307.1,"l":0.1175},{"c":"λ₃=0","m":311.5,"l":0.1257},{"c":"λ₃=0","m":316.0,"l":0.1215},{"c":"λ₃=0","m":318.2,"l":0.1235},{"c":"λ₃=0","m":354.3,"l":0.139},{"c":"λ₃=0","m":356.8,"l":0.1462},{"c":"λ₃=0","m":362.0,"l":0.1414},{"c":"λ₃=0","m":423.6,"l":0.1673},{"c":"λ₃=0","m":429.7,"l":0.179},{"c":"λ₃=0","m":435.9,"l":0.172},{"c":"λ₃=0","m":500,"l":0.198},
{"c":"XENON100","m":40,"l":0.0197},{"c":"XENON100","m":53.2,"l":0.0258},{"c":"XENON100","m":70.9,"l":0.0393},{"c":"XENON100","m":108.8,"l":0.0663},{"c":"XENON100","m":175.7,"l":0.1256},{"c":"XENON100","m":296.2,"l":0.2464},
{"c":"LUX","m":40,"l":0.0129},{"c":"LUX","m":61.4,"l":0.019},{"c":"LUX","m":81.8,"l":0.0295},{"c":"LUX","m":108.8,"l":0.045},{"c":"LUX","m":144.9,"l":0.0663},{"c":"LUX","m":222.6,"l":0.1235},{"c":"LUX","m":359.4,"l":0.2464},
{"c":"XENON1T","m":40,"l":0.00199},{"c":"XENON1T","m":81.8,"l":0.0044},{"c":"XENON1T","m":108.8,"l":0.00616},{"c":"XENON1T","m":222.6,"l":0.01664},{"c":"XENON1T","m":500,"l":0.0541}
]
},
"layer": [
{
  "data": {"name": "pts"},
  "mark": {"type": "point", "filled": true, "clip": true, "strokeWidth": 1, "opacity": 1},
  "encoding": {
    "x": {"field": "m", "type": "quantitative", "scale": {"type": "log", "domain": [40, 500], "nice": false},
          "axis": {"title": "MX[GeV]", "values": [100, 110, 120, 130, 140, 150, 175, 200, 300, 400, 500], "labelExpr": "indexof([100,150,200,300,500], datum.value) >= 0 ? '' + datum.value : ''", "titlePadding": 1}},
    "y": {"field": "l", "type": "quantitative", "scale": {"type": "log", "domain": [0.001, 0.5], "nice": false},
          "axis": {"title": "λHX", "values": [0.001,0.002,0.003,0.004,0.005,0.006,0.007,0.008,0.009,0.01,0.02,0.03,0.04,0.05,0.06,0.07,0.08,0.09,0.1,0.2,0.3,0.4,0.5], "labelExpr": "indexof([0.001,0.005,0.01,0.05,0.1,0.5], datum.value) >= 0 ? format(datum.value, '.3f') : ''", "titlePadding": 4}},
    "fill": {"field": "r", "type": "quantitative",
      "scale": {"domain": [0, 0.16667, 0.33333, 0.5, 0.66667, 0.83333, 1], "range": ["#ff0000", "#ffff00", "#00ff00", "#00ffff", "#0000ff", "#ff00ff", "#ff0000"]},
      "legend": {"orient": "none", "legendX": 372, "legendY": 104, "direction": "vertical", "title": "r", "titleFontSize": 14, "titleFontWeight": "normal", "titleColor": "#000", "titleAnchor": "middle", "titlePadding": 4, "gradientLength": 154, "gradientThickness": 8, "gradientStrokeWidth": 0, "values": [0, 0.2, 0.4, 0.6, 0.8, 1], "labelExpr": "datum.value == 0 ? '0' : format(datum.value, '.1f')", "labelFontSize": 14, "labelColor": "#000", "labelOffset": 2, "padding": 0}},
    "stroke": {"field": "r", "type": "quantitative",
      "scale": {"domain": [0, 0.16667, 0.33333, 0.5, 0.66667, 0.83333, 1], "range": ["#ff0000", "#ffff00", "#00ff00", "#00ffff", "#0000ff", "#ff00ff", "#ff0000"]}, "legend": null},
    "shape": {"field": "t", "type": "nominal", "scale": {"domain": ["L", "G"], "range": ["triangle-up", "square"]},
      "legend": {"orient": "none", "legendX": 138, "legendY": 17, "title": null, "labelExpr": "datum.value == 'L' ? 'Local Z₃' : 'Global Z₃'", "labelFontSize": 14, "labelColor": "#000", "symbolSize": 12, "symbolFillColor": "#33cc33", "symbolStrokeColor": "#e8a060", "symbolStrokeWidth": 0.8, "symbolOpacity": 1, "strokeColor": "#000", "fillColor": "#fff", "padding": 5, "cornerRadius": 2, "rowPadding": 5, "labelOffset": 3}},
    "fillOpacity": {"condition": {"test": "datum.t == 'L'", "value": 1}, "value": 0},
    "strokeOpacity": {"condition": {"test": "datum.t == 'L'", "value": 0}, "value": 0.65},
    "size": {"condition": {"test": "datum.t == 'L'", "value": 10}, "value": 16}
  }
},
{
  "data": {"name": "lines"},
  "mark": {"type": "line", "strokeWidth": 4, "clip": true},
  "encoding": {
    "x": {"field": "m", "type": "quantitative",
          "axis": {"orient": "top", "title": null, "labels": false, "domain": false, "values": [100, 110, 120, 130, 140, 150, 175, 200, 300, 400, 500]}},
    "y": {"field": "l", "type": "quantitative",
          "axis": {"orient": "right", "title": null, "labels": false, "domain": false, "values": [0.001,0.002,0.003,0.004,0.005,0.006,0.007,0.008,0.009,0.01,0.02,0.03,0.04,0.05,0.06,0.07,0.08,0.09,0.1,0.2,0.3,0.4,0.5]}},
    "stroke": {"field": "c", "type": "nominal",
      "scale": {"domain": ["λ₃=0", "XENON100", "LUX", "XENON1T"], "range": ["#0000ff", "#7a1a8a", "#ff0000", "#00ee00"]},
      "legend": {"orient": "none", "legendX": 33, "legendY": 10, "title": null, "labelFontSize": 15, "labelColor": "#000", "symbolType": "stroke", "symbolStrokeWidth": 4, "symbolSize": 64, "strokeColor": "#000", "fillColor": "#fff", "padding": 4, "cornerRadius": 2, "rowPadding": 0, "labelOffset": 3}}
  }
}
],
"resolve": {"scale": {"stroke": "independent"}, "legend": {"stroke": "independent"}, "axis": {"x": "independent", "y": "independent"}}
}
